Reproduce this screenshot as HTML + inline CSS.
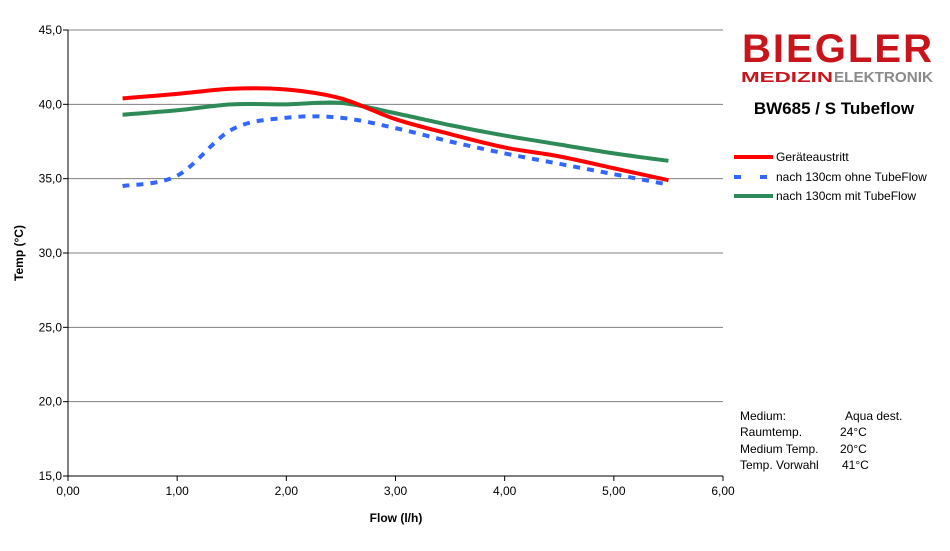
<!DOCTYPE html>
<html><head><meta charset="utf-8"><style>
body{margin:0;background:#fff;font-family:"Liberation Sans",Arial,sans-serif;}
svg text{font-family:"Liberation Sans",Arial,sans-serif;}
</style></head><body>
<svg id="chart" width="950" height="546" xmlns="http://www.w3.org/2000/svg">
<g id="grid"></g>
<g id="axes"></g>
<g id="series"></g>
<text x="0" y="0" transform="translate(23,253) rotate(-90)" text-anchor="middle" font-size="12" font-weight="bold">Temp (°C)</text>
<text x="396" y="522" text-anchor="middle" font-size="12" font-weight="bold">Flow (l/h)</text>
<g>
<text x="838" y="62" text-anchor="middle" font-size="40" font-weight="bold" fill="#c8151b" letter-spacing="2" textLength="192" lengthAdjust="spacingAndGlyphs">BIEGLER</text>
<text x="741" y="82" font-size="15" font-weight="bold" fill="#c8151b" textLength="92" lengthAdjust="spacingAndGlyphs">MEDIZIN</text>
<text x="834" y="82" font-size="15" font-weight="bold" fill="#8a8a8a" textLength="99" lengthAdjust="spacingAndGlyphs">ELEKTRONIK</text>
</g>
<text x="834" y="114" text-anchor="middle" font-size="17" font-weight="bold">BW685 / S Tubeflow</text>
<g font-size="12">
<g><line x1="734" y1="157" x2="773" y2="157" stroke="#ff0000" stroke-width="4"/><text x="776" y="161">Geräteaustritt</text></g>
<g><line x1="734" y1="177" x2="773" y2="177" stroke="#3366ff" stroke-width="4" stroke-dasharray="7,19"/><text x="776" y="181">nach 130cm ohne TubeFlow</text></g>
<g><line x1="734" y1="196" x2="773" y2="196" stroke="#2e8b57" stroke-width="4"/><text x="776" y="200">nach 130cm mit TubeFlow</text></g>
</g>
<g font-size="12">
<text x="740" y="420">Medium:</text><text x="845" y="420">Aqua dest.</text>
<text x="740" y="436">Raumtemp.</text><text x="840" y="436">24°C</text>
<text x="740" y="453">Medium Temp.</text><text x="840" y="453">20°C</text>
<text x="740" y="469">Temp. Vorwahl</text><text x="842" y="469">41°C</text>
</g>
</svg>
<script>
const xValues=[0.5,1.0,1.5,2.0,2.5,3.0,3.5,4.0,4.5,5.0,5.5];
const seriesRed=[40.4,40.7,41.05,41.0,40.4,39.0,38.0,37.1,36.5,35.7,34.9];
const seriesBlue=[34.5,35.2,38.3,39.1,39.1,38.4,37.5,36.7,36.0,35.3,34.6];
const seriesGreen=[39.3,39.6,40.0,40.0,40.1,39.4,38.6,37.9,37.3,36.7,36.2];
const yTicks=[15,20,25,30,35,40,45];
const yTickLabels=["15,0","20,0","25,0","30,0","35,0","40,0","45,0"];
const xTicks=[0,1,2,3,4,5,6];
const xTickLabels=["0,00","1,00","2,00","3,00","4,00","5,00","6,00"];
const NS="http://www.w3.org/2000/svg";
const X0=68,X1=723,Y0=476,Y1=30;
function sx(v){return X0+(v-0)/(6-0)*(X1-X0);}
function sy(v){return Y0-(v-15)/(45-15)*(Y0-Y1);}
function mk(tag,attrs,parent){const e=document.createElementNS(NS,tag);for(const k in attrs)e.setAttribute(k,attrs[k]);parent.appendChild(e);return e;}
const grid=document.getElementById('grid'),axes=document.getElementById('axes'),ser=document.getElementById('series');
yTicks.forEach((t,i)=>{
 if(t>15){const l=mk('line',{x1:X0,x2:X1,y1:sy(t),y2:sy(t),stroke:'#808080','stroke-width':1},grid);
 
 }
 const tk=mk('line',{x1:X0-5,x2:X0,y1:sy(t),y2:sy(t),stroke:'#000'},axes);
 
 
 const tx=mk('text',{x:X0-6,y:sy(t)+4,'text-anchor':'end','font-size':12},axes);tx.textContent=yTickLabels[i];
 
 
});
xTicks.forEach((t,i)=>{
 const tk=mk('line',{x1:sx(t),x2:sx(t),y1:Y0,y2:Y0+5,stroke:'#000'},axes);
 
 
 const tx=mk('text',{x:sx(t),y:Y0+19,'text-anchor':'middle','font-size':12},axes);tx.textContent=xTickLabels[i];
 
 
});
const ya=mk('line',{x1:X0,x2:X0,y1:Y1,y2:Y0,stroke:'#000'},axes);


const xa=mk('line',{x1:X0,x2:X1,y1:Y0,y2:Y0,stroke:'#000'},axes);


function smooth(vals){
 const p=xValues.map((x,i)=>[sx(x),sy(vals[i])]);
 let d='M'+p[0][0]+','+p[0][1];
 for(let i=0;i<p.length-1;i++){
  const a=p[Math.max(0,i-1)],b=p[i],c=p[i+1],e=p[Math.min(p.length-1,i+2)];
  const c1=[b[0]+(c[0]-a[0])/6,b[1]+(c[1]-a[1])/6],c2=[c[0]-(e[0]-b[0])/6,c[1]-(e[1]-b[1])/6];
  d+=' C'+c1+' '+c2+' '+c;
 }
 return d;
}
const s1=mk('path',{d:smooth(seriesBlue),fill:'none',stroke:'#3366ff','stroke-width':4,'stroke-dasharray':'7,7'},ser);


const s2=mk('path',{d:smooth(seriesGreen),fill:'none',stroke:'#2e8b57','stroke-width':4},ser);


const s3=mk('path',{d:smooth(seriesRed),fill:'none',stroke:'#ff0000','stroke-width':4},ser);


</script>
</body></html>
